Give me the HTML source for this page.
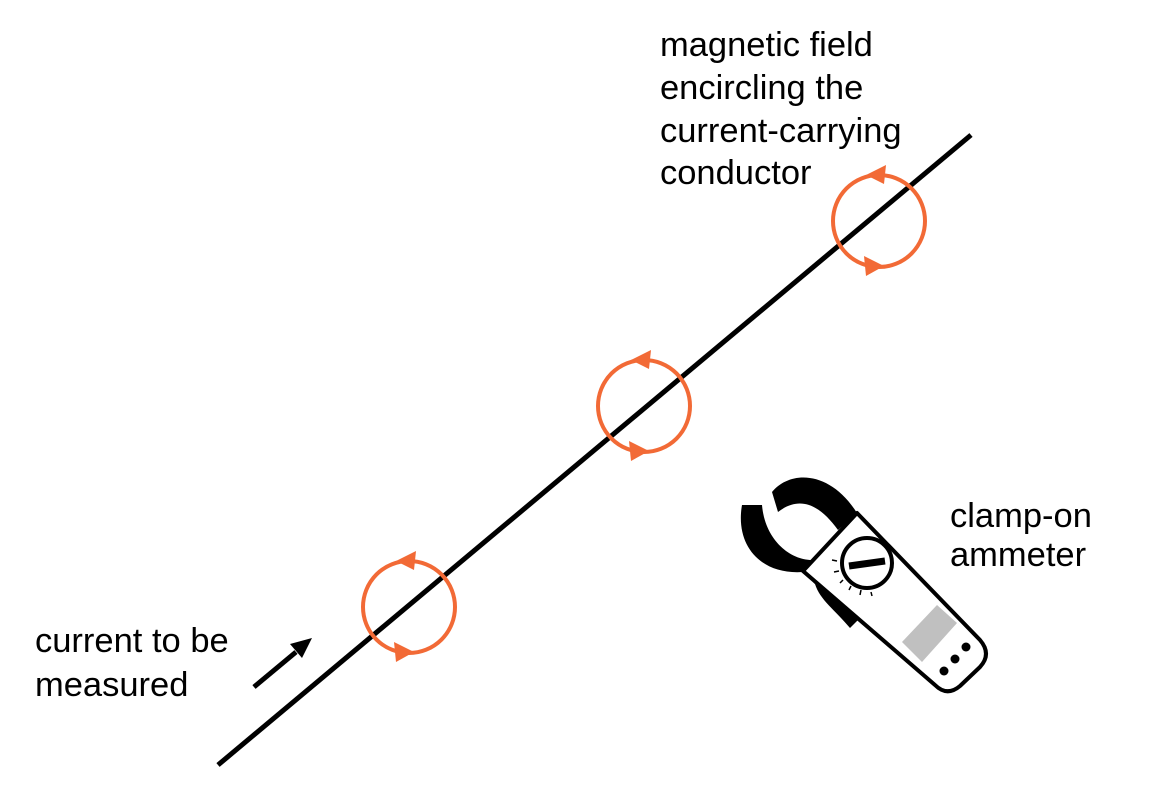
<!DOCTYPE html>
<html><head><meta charset="utf-8"><style>
html,body{margin:0;padding:0;background:#fff;}
svg{display:block;}
text{font-family:"Liberation Sans",Arial,sans-serif;font-size:34.5px;fill:#000;}
</style></head><body>
<svg width="1154" height="808" viewBox="0 0 1154 808" xmlns="http://www.w3.org/2000/svg">
<rect width="1154" height="808" fill="#fff"/>
<line x1="218" y1="765" x2="971" y2="135" stroke="#000" stroke-width="5"/>
<g fill="none" stroke="#f26a36" stroke-width="4">
<circle cx="879" cy="221" r="46"/>
<circle cx="644" cy="406" r="46"/>
<circle cx="409" cy="607" r="46"/>
</g>
<g fill="#f26a36">
<polygon points="866,175 886,165 884,184"/>
<polygon points="884,266 864,256 866,276"/>
<polygon points="631,360 651,350 649,369"/>
<polygon points="649,451 629,441 631,461"/>
<polygon points="396,561 416,551 414,570"/>
<polygon points="414,652 394,642 396,662"/>
</g>
<line x1="254" y1="687" x2="296" y2="652" stroke="#000" stroke-width="5"/>
<polygon points="312,638 290,644 302,658" fill="#000"/>
<path d="M772,492 C790,470 830,470 857,513 L838,530 C820,505 800,495 778,512 Z" fill="#000"/>
<path d="M742,505 C735,545 760,575 803,572 L815,584 C820,600 835,610 850,628 L858,620 C840,595 820,575 812,560 C790,560 765,540 762,505 Z" fill="#000"/>
<path d="M857,513 L980,640 Q992,654 980,667 L960,686 Q947,697 935,685 L803,571 Z" fill="#fff" stroke="#000" stroke-width="4" stroke-linejoin="round"/>
<circle cx="867" cy="563" r="25" fill="#fff" stroke="#000" stroke-width="4"/>
<line x1="849" y1="566" x2="885" y2="561" stroke="#000" stroke-width="7"/>
<g stroke="#000" stroke-width="1.5">
<line x1="832" y1="560" x2="837" y2="561"/><line x1="834" y1="572" x2="839" y2="571"/>
<line x1="840" y1="583" x2="843" y2="580"/><line x1="849" y1="590" x2="851" y2="586"/>
<line x1="860" y1="595" x2="861" y2="590"/><line x1="872" y1="596" x2="871" y2="592"/>
</g>
<polygon points="902,642 937,605 957,623 922,662" fill="#c0c0c0"/>
<circle cx="966" cy="647" r="4.5" fill="#000"/>
<circle cx="955" cy="659" r="4.5" fill="#000"/>
<circle cx="944" cy="671" r="4.5" fill="#000"/>
<text x="660" y="56">magnetic field</text>
<text x="660" y="99">encircling the</text>
<text x="660" y="142">current-carrying</text>
<text x="660" y="184">conductor</text>
<text x="950" y="527">clamp-on</text>
<text x="950" y="566">ammeter</text>
<text x="35" y="652">current to be</text>
<text x="35" y="696">measured</text>
</svg>
</body></html>
